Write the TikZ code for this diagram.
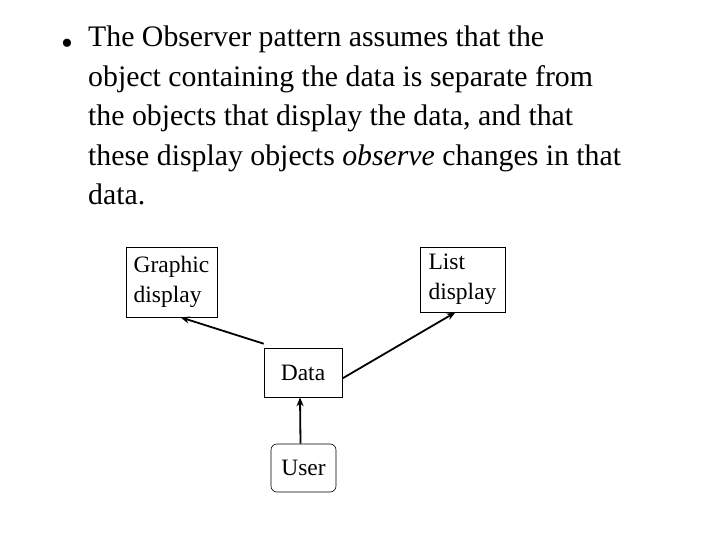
\documentclass[tikz,border=0pt]{standalone}
\usepackage{fontspec}
\setmainfont{Liberation Serif}
\usetikzlibrary{arrows.meta}

\begin{document}
\begin{tikzpicture}[x=1pt,y=-1pt,
    box/.style={draw,semithick,minimum width=#1,align=left,font=\fontsize{23.5}{30}\selectfont,inner sep=0pt},
    link/.style={line width=1.8pt,-{Stealth[length=9pt,width=7pt]}}]
        \useasboundingbox (0,0) rectangle (720,540);
        % bullet text
        \node (bullet) at (67,47) {\fontsize{34}{38}\selectfont\textbullet};
        \node [anchor=north west,inner sep=0pt,align=left,font=\fontsize{29.8}{39.5}\selectfont] (intro) at (88,26)
          {The Observer pattern assumes that the\\object containing the data is separate from\\the objects that display the data, and that\\these display objects \emph{observe} changes in that\\data.};
        % boxes
        \node [box=91pt,minimum height=70pt] (graphic) at (171.5,282) {Graphic\\display};
        \node [box=85pt,minimum height=65pt] (list) at (462.5,279.5) {List\\display};
        \node [box=78pt,minimum height=49pt] (data) at (303,372.5) {Data};
        \node [box=65pt,minimum height=48pt,rounded corners=6pt] (user) at (303.5,468) {User};
        % arrows
        \draw [link] ([yshift=4]data.north west) -- ([xshift=9]graphic.south);
        \draw [link] ([yshift=-6]data.east) -- ([xshift=-7]list.south);
        \draw [link] ([xshift=-3]user.north) -- ([xshift=-3]data.south);
\end{tikzpicture}
\end{document}
